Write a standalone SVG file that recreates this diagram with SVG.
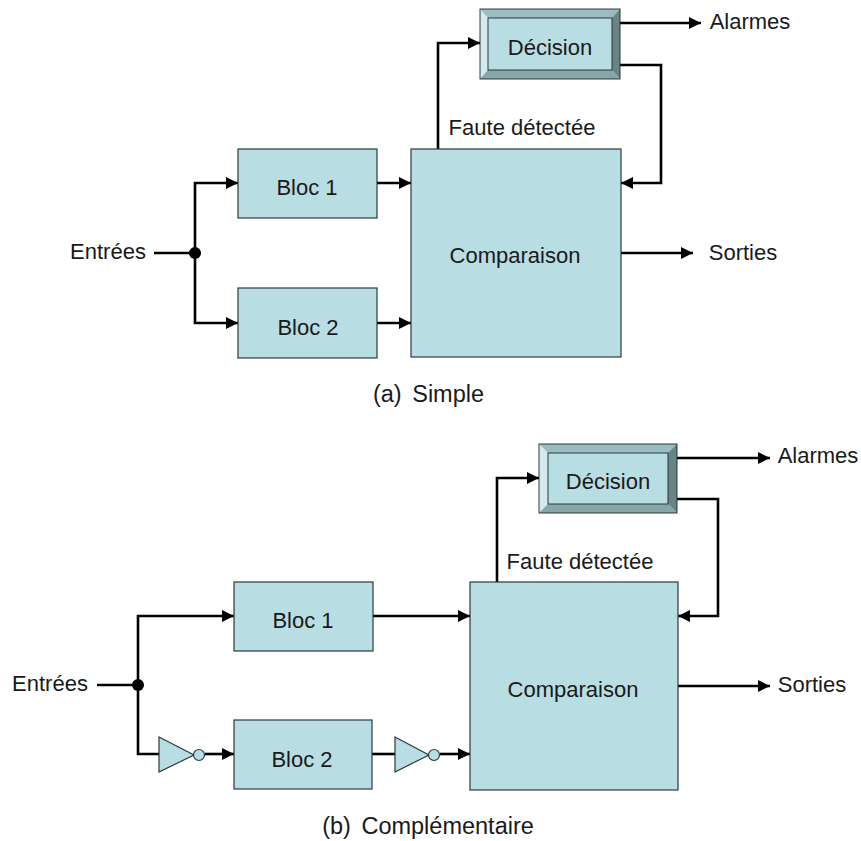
<svg xmlns="http://www.w3.org/2000/svg" width="861" height="841" viewBox="0 0 861 841">
<defs>
<marker id="arr" markerUnits="userSpaceOnUse" markerWidth="13" markerHeight="12" refX="12" refY="6" orient="auto"><path d="M0 0L12 6L0 12Z" fill="#000"/></marker>
</defs>
<style>
text{font-family:"Liberation Sans",Arial,sans-serif;font-size:22px;fill:#1a1a1a;text-anchor:middle}
.cap{font-size:23.5px;word-spacing:4px}
.b{fill:#b8dde2;stroke:#2a3a3e;stroke-width:1.2}
.c{fill:none;stroke:#000;stroke-width:2.6;marker-end:url(#arr)}
.n{fill:none;stroke:#000;stroke-width:2.6}
.e{stroke:#1a2a2c;stroke-width:.9}
</style>
<rect width="861" height="841" fill="#fff"/>
<g id="connectors">
<path class="n" d="M154 253H195"/>
<path class="c" d="M195 253V183H238"/>
<path class="c" d="M195 253V323H238"/>
<path class="c" d="M377 183H411"/>
<path class="c" d="M377 323H411"/>
<path class="c" d="M438 149V43H480"/>
<path class="c" d="M620 23H701"/>
<path class="c" d="M620 65H661V183H621"/>
<path class="c" d="M621 253H693"/>
<path class="n" d="M97 685H138"/>
<path class="c" d="M138 685V616H234"/>
<path class="n" d="M138 685V754H159"/>
<path class="c" d="M205 754H234"/>
<path class="c" d="M373 616H470"/>
<path class="n" d="M372 754H395"/>
<path class="c" d="M440 754H470"/>
<path class="c" d="M497 582V478H539"/>
<path class="c" d="M677 458H770"/>
<path class="c" d="M677 499H718V616H678"/>
<path class="c" d="M678 686H770"/>
<circle cx="195" cy="253" r="6" fill="#000"/>
<circle cx="138" cy="685" r="6" fill="#000"/>
</g>
<g id="bloc1a"><rect class="b" x="238" y="149" width="139" height="69"/><text x="307" y="195">Bloc 1</text></g>
<g id="bloc2a"><rect class="b" x="238" y="288" width="139" height="70"/><text x="308" y="335">Bloc 2</text></g>
<g id="comparaisona"><rect class="b" x="411" y="149" width="210" height="208"/><text x="515" y="263">Comparaison</text></g>
<g id="decisiona">
<rect x="480" y="9" width="140" height="70" fill="#b8dde2"/>
<path d="M480 9H620L612 18H488Z" fill="#9bbdc2"/>
<path d="M480 9L488 18V70L480 79Z" fill="#d3eaee"/>
<path d="M620 9L612 18V70L620 79Z" fill="#6b8286"/>
<path d="M480 79L488 70H612L620 79Z" fill="#87a6aa"/>
<rect class="e" x="480" y="9" width="140" height="70" fill="none"/>
<rect class="e" x="488" y="18" width="124" height="52" fill="none"/>
<text x="550" y="55">Décision</text>
</g>
<g id="label-a">
<text x="108" y="259">Entrées</text>
<text x="522" y="135">Faute détectée</text>
<text x="750" y="29">Alarmes</text>
<text x="743" y="260">Sorties</text>
<text class="cap" x="428.5" y="402">(a) Simple</text>
</g>
<g id="bloc1b"><rect class="b" x="234" y="582" width="139" height="69"/><text x="303" y="628">Bloc 1</text></g>
<g id="bloc2b"><rect class="b" x="234" y="720" width="138" height="69"/><text x="302" y="767">Bloc 2</text></g>
<g id="comparaisonb"><rect class="b" x="470" y="582" width="208" height="208"/><text x="573" y="697">Comparaison</text></g>
<g id="decisionb">
<rect x="539" y="444" width="138" height="69" fill="#b8dde2"/>
<path d="M539 444H677L668 453H548Z" fill="#9bbdc2"/>
<path d="M539 444L548 453V504L539 513Z" fill="#d3eaee"/>
<path d="M677 444L668 453V504L677 513Z" fill="#6b8286"/>
<path d="M539 513L548 504H668L677 513Z" fill="#87a6aa"/>
<rect class="e" x="539" y="444" width="138" height="69" fill="none"/>
<rect class="e" x="548" y="453" width="120" height="51" fill="none"/>
<text x="608" y="489">Décision</text>
</g>
<g id="inv1"><path class="b" d="M159 737L194 755L159 772Z"/><circle class="b" cx="199" cy="755" r="5.5"/></g>
<g id="inv2"><path class="b" d="M395 737L429 755L395 772Z"/><circle class="b" cx="434" cy="755" r="5.5"/></g>
<g id="label-b">
<text x="50" y="691">Entrées</text>
<text x="580" y="569">Faute détectée</text>
<text x="818" y="463">Alarmes</text>
<text x="812" y="692">Sorties</text>
<text class="cap" x="428" y="834">(b) Complémentaire</text>
</g>
</svg>
